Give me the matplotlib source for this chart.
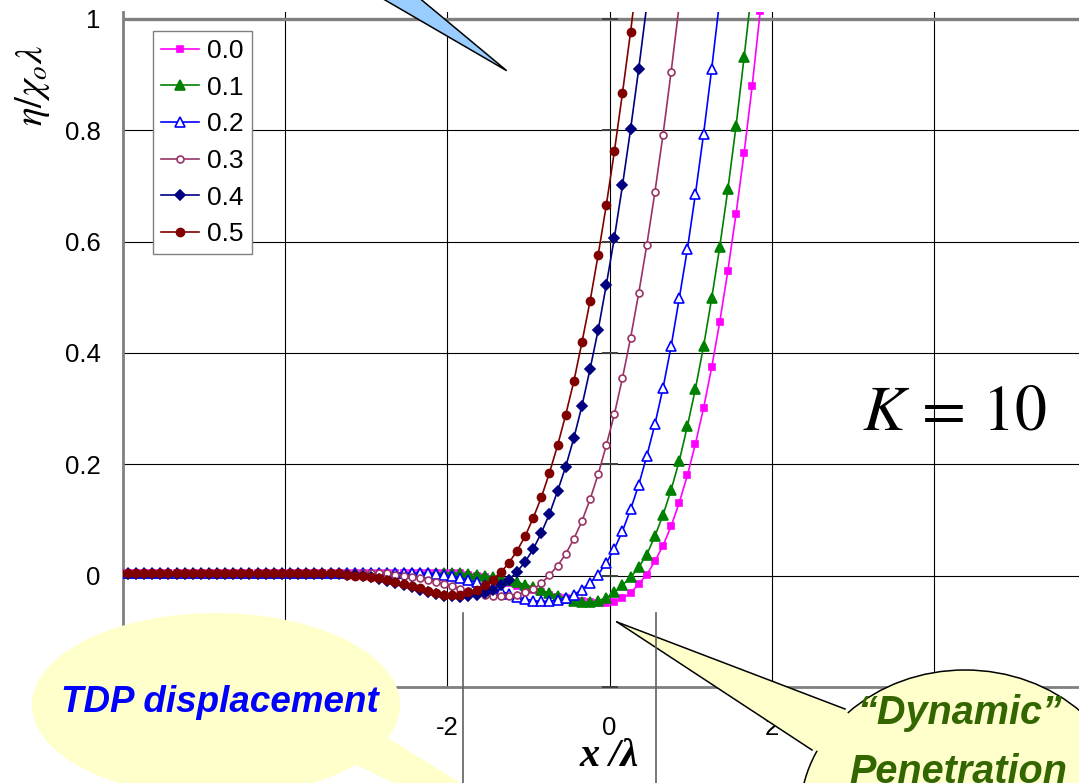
import matplotlib
matplotlib.use("Agg")
import matplotlib.pyplot as plt
from matplotlib.patches import Ellipse, Polygon

plt.rcParams['font.family'] = ['Liberation Sans', 'DejaVu Sans']
plt.rcParams['mathtext.fontset'] = 'stix'

# sample points along x / lambda
x_vals = [-6.04, -5.94, -5.84, -5.74, -5.64, -5.54, -5.44, -5.34, -5.24, -5.14,
          -5.04, -4.94, -4.84, -4.74, -4.64, -4.54, -4.44, -4.34, -4.24, -4.14,
          -4.04, -3.94, -3.84, -3.74, -3.64, -3.54, -3.44, -3.34, -3.24, -3.14,
          -3.04, -2.94, -2.84, -2.74, -2.64, -2.54, -2.44, -2.34, -2.24, -2.14,
          -2.04, -1.94, -1.84, -1.74, -1.64, -1.54, -1.44, -1.34, -1.24, -1.14,
          -1.04, -0.94, -0.84, -0.74, -0.64, -0.54, -0.44, -0.34, -0.24, -0.14,
          -0.04, 0.06, 0.16, 0.26, 0.36, 0.46, 0.56, 0.66, 0.76, 0.86,
          0.96, 1.06, 1.16, 1.26, 1.36, 1.46, 1.56, 1.66, 1.76, 1.86]

# eta / (chi_o lambda) for each value of the parameter
eta_00 = [0.005, 0.005, 0.005, 0.005, 0.005, 0.005, 0.005, 0.005, 0.005, 0.005,
          0.005, 0.005, 0.005, 0.005, 0.005, 0.005, 0.005, 0.005, 0.005, 0.005,
          0.005, 0.005, 0.005, 0.005, 0.005, 0.005, 0.005, 0.005, 0.005, 0.005,
          0.005, 0.005, 0.005, 0.005, 0.005, 0.005, 0.005, 0.005, 0.005, 0.005,
          0.005, 0.005, 0.004, 0.002, 0.000, -0.003, -0.006, -0.010, -0.014, -0.018,
          -0.022, -0.026, -0.030, -0.034, -0.038, -0.041, -0.044, -0.046, -0.048, -0.049,
          -0.050, -0.048, -0.041, -0.031, -0.015, 0.002, 0.026, 0.054, 0.089, 0.131,
          0.180, 0.237, 0.301, 0.374, 0.456, 0.548, 0.649, 0.759, 0.880, 1.015]

eta_01 = [0.004, 0.004, 0.004, 0.004, 0.004, 0.004, 0.004, 0.004, 0.004, 0.004,
          0.004, 0.004, 0.004, 0.004, 0.004, 0.004, 0.004, 0.004, 0.004, 0.004,
          0.004, 0.004, 0.004, 0.004, 0.004, 0.004, 0.004, 0.004, 0.004, 0.004,
          0.004, 0.004, 0.004, 0.004, 0.004, 0.004, 0.004, 0.004, 0.004, 0.004,
          0.004, 0.004, 0.004, 0.003, 0.002, 0.000, -0.002, -0.005, -0.008, -0.012,
          -0.016, -0.021, -0.026, -0.031, -0.036, -0.041, -0.046, -0.048, -0.048, -0.045,
          -0.040, -0.030, -0.017, -0.003, 0.015, 0.038, 0.071, 0.109, 0.154, 0.206,
          0.268, 0.336, 0.412, 0.498, 0.591, 0.694, 0.807, 0.931, 1.060]

eta_02 = [0.004, 0.004, 0.004, 0.004, 0.004, 0.004, 0.004, 0.004, 0.004, 0.004,
          0.004, 0.004, 0.004, 0.004, 0.004, 0.004, 0.004, 0.004, 0.004, 0.004,
          0.004, 0.004, 0.004, 0.004, 0.004, 0.004, 0.004, 0.004, 0.004, 0.004,
          0.004, 0.004, 0.004, 0.004, 0.004, 0.004, 0.004, 0.004, 0.004, 0.003,
          0.001, -0.001, -0.004, -0.008, -0.012, -0.017, -0.022, -0.028, -0.033, -0.038,
          -0.042, -0.045, -0.046, -0.046, -0.044, -0.040, -0.034, -0.025, -0.013, 0.002,
          0.023, 0.048, 0.080, 0.119, 0.163, 0.215, 0.272, 0.337, 0.412, 0.498,
          0.586, 0.686, 0.793, 0.910, 1.035]

eta_03 = [0.004, 0.004, 0.004, 0.004, 0.004, 0.004, 0.004, 0.004, 0.004, 0.004,
          0.004, 0.004, 0.004, 0.004, 0.004, 0.004, 0.004, 0.004, 0.004, 0.004,
          0.004, 0.004, 0.004, 0.004, 0.004, 0.004, 0.004, 0.004, 0.004, 0.004,
          0.004, 0.004, 0.004, 0.004, 0.002, 0.000, -0.002, -0.004, -0.007, -0.011,
          -0.015, -0.019, -0.024, -0.028, -0.032, -0.035, -0.037, -0.037, -0.036, -0.034,
          -0.030, -0.024, -0.014, 0.001, 0.018, 0.039, 0.066, 0.098, 0.137, 0.182,
          0.234, 0.290, 0.355, 0.427, 0.507, 0.594, 0.689, 0.792, 0.905, 1.025]

eta_04 = [0.003, 0.003, 0.003, 0.003, 0.003, 0.003, 0.003, 0.003, 0.003, 0.003,
          0.003, 0.003, 0.003, 0.003, 0.003, 0.003, 0.003, 0.003, 0.003, 0.003,
          0.003, 0.003, 0.003, 0.003, 0.003, 0.003, 0.003, 0.003, 0.002, 0.001,
          -0.001, -0.003, -0.006, -0.009, -0.013, -0.017, -0.021, -0.026, -0.030, -0.033,
          -0.036, -0.037, -0.038, -0.037, -0.035, -0.031, -0.025, -0.017, -0.007, 0.007,
          0.025, 0.048, 0.077, 0.111, 0.152, 0.196, 0.247, 0.305, 0.371, 0.441,
          0.522, 0.607, 0.701, 0.802, 0.910, 1.025]

eta_05 = [0.005, 0.005, 0.005, 0.005, 0.005, 0.005, 0.005, 0.005, 0.005, 0.005,
          0.005, 0.005, 0.005, 0.005, 0.005, 0.005, 0.005, 0.005, 0.005, 0.005,
          0.005, 0.005, 0.005, 0.005, 0.005, 0.005, 0.004, 0.004, 0.002, 0.000,
          -0.001, -0.003, -0.005, -0.008, -0.011, -0.015, -0.019, -0.023, -0.027, -0.031,
          -0.034, -0.035, -0.034, -0.030, -0.025, -0.017, -0.007, 0.006, 0.023, 0.045,
          0.071, 0.104, 0.141, 0.185, 0.234, 0.289, 0.349, 0.419, 0.493, 0.576,
          0.665, 0.762, 0.867, 0.977, 1.095]

series = [eta_00, eta_01, eta_02, eta_03, eta_04, eta_05]
labels = ["0.0", "0.1", "0.2", "0.3", "0.4", "0.5"]

x_ticks = [-6, -4, -2, 0, 2, 4, 6]
x_tick_labels = ["-6", "-4", "-2", "0", "2", "4", "6"]
y_ticks = [-0.2, 0, 0.2, 0.4, 0.6, 0.8, 1]
y_tick_labels = ["-0.2", "0", "0.2", "0.4", "0.6", "0.8", "1"]

styles = [
    dict(color="#FF00FF", marker="s", ms=5.0, mfc="#FF00FF"),
    dict(color="#008000", marker="^", ms=7.2, mfc="#008000"),
    dict(color="#0000FF", marker="^", ms=7.2, mfc="white"),
    dict(color="#993366", marker="o", ms=5.0, mfc="white"),
    dict(color="#000080", marker="D", ms=5.0, mfc="#000080"),
    dict(color="#800000", marker="o", ms=5.8, mfc="#800000"),
]

W, H = 1079, 783
fig = plt.figure(figsize=(W / 100, H / 100), dpi=100)
ax = fig.add_axes([123 / W, 1 - 687 / H, (1096 - 123) / W, (687 - 12) / H])
ax.set_xlim(-6, 6)
ax.set_ylim(-0.2, 1.0125)

for ys, lab, st in zip(series, labels, styles):
    ax.plot(x_vals[:len(ys)], ys, lw=1.2, mew=1.2, mec=st["color"], label=lab, zorder=3, **st)

ax.set_xticks(x_ticks)
ax.set_xticklabels(x_tick_labels)
ax.set_yticks(y_ticks)
ax.set_yticklabels(y_tick_labels)
ax.tick_params(axis="both", length=0, labelsize=18.5)
ax.tick_params(axis="x", pad=21)
ax.tick_params(axis="y", pad=16)
ax.set_axisbelow(True)
ax.grid(True, color="black", lw=0.8)
for side in ["top", "right"]:
    ax.spines[side].set_visible(False)
for side in ["left", "bottom"]:
    ax.spines[side].set_color("#808080")
    ax.spines[side].set_linewidth(2.0)
ax.axhline(1.0, color="#808080", lw=2.4, zorder=2.5)

# value axis crosses at x = 0 with cross tick marks
ax.plot([0] * len(y_ticks), y_ticks, ls="none", marker="_", ms=12, mew=1.4,
        color="#404040", clip_on=False, zorder=2.6)

leg = ax.legend(loc="upper left", bbox_to_anchor=(153 / W, 1 - 31 / H),
                bbox_transform=fig.transFigure, fontsize=19, handlelength=1.45,
                handletextpad=0.3, labelspacing=0.48, borderpad=0.3,
                borderaxespad=0, fancybox=False, framealpha=1, edgecolor="#808080")
leg.get_frame().set_linewidth(1.0)

# overlay in pixel coordinates for the callouts and labels
ov = fig.add_axes([0, 0, 1, 1], zorder=10)
ov.set_xlim(0, W)
ov.set_ylim(H, 0)
ov.axis("off")

ov.add_patch(Polygon([(376.4, -5), (415.7, -5), (506.7, 70.7)], closed=True,
                     fc="#99CCFF", ec="black", lw=1.1))

ov.add_patch(Ellipse((216, 705), 368, 184, fc="#FFFFCC", ec="none"))
ov.add_patch(Polygon([(335, 755), (383, 735), (480, 795), (430, 800)], closed=True,
                     fc="#FFFFCC", ec="none"))
ov.text(220, 702, "TDP displacement", color="#0000FF", fontsize=26.5,
        weight="bold", style="italic", ha="center", va="center")

ov.add_patch(Ellipse((965, 815), 330, 290, fc="#FFFFCC", ec="black", lw=1.1))
ov.add_patch(Polygon([(617, 622), (845, 709), (880, 760), (812, 750)], closed=True,
                     fc="#FFFFCC", ec="none"))
ov.plot([617, 845], [622, 709], color="black", lw=1.1)
ov.plot([617, 812], [622, 750], color="black", lw=1.1)
ov.text(960, 713, "\u201cDynamic\u201d", color="#336600", fontsize=28.5,
        weight="bold", style="italic", ha="center", va="center")
ov.text(958, 772, "Penetration", color="#336600", fontsize=28.5,
        weight="bold", style="italic", ha="center", va="center")

# dimension lines below the axis
ov.plot([463, 463], [613, 790], color="#606060", lw=1.2)
ov.plot([656, 656], [613, 790], color="#606060", lw=1.2)

ov.text(954, 412, r"$K\,=\,10$", fontsize=46, ha="center", va="center")
ov.text(33, 85, r"$\eta/\chi_o\lambda$", fontsize=28, rotation=90,
        ha="center", va="center")
ov.text(609, 757, "x /\u03bb", family="Liberation Serif", fontsize=29,
        weight="bold", style="italic", ha="center", va="center")

fig.savefig("out.png", dpi=100)
